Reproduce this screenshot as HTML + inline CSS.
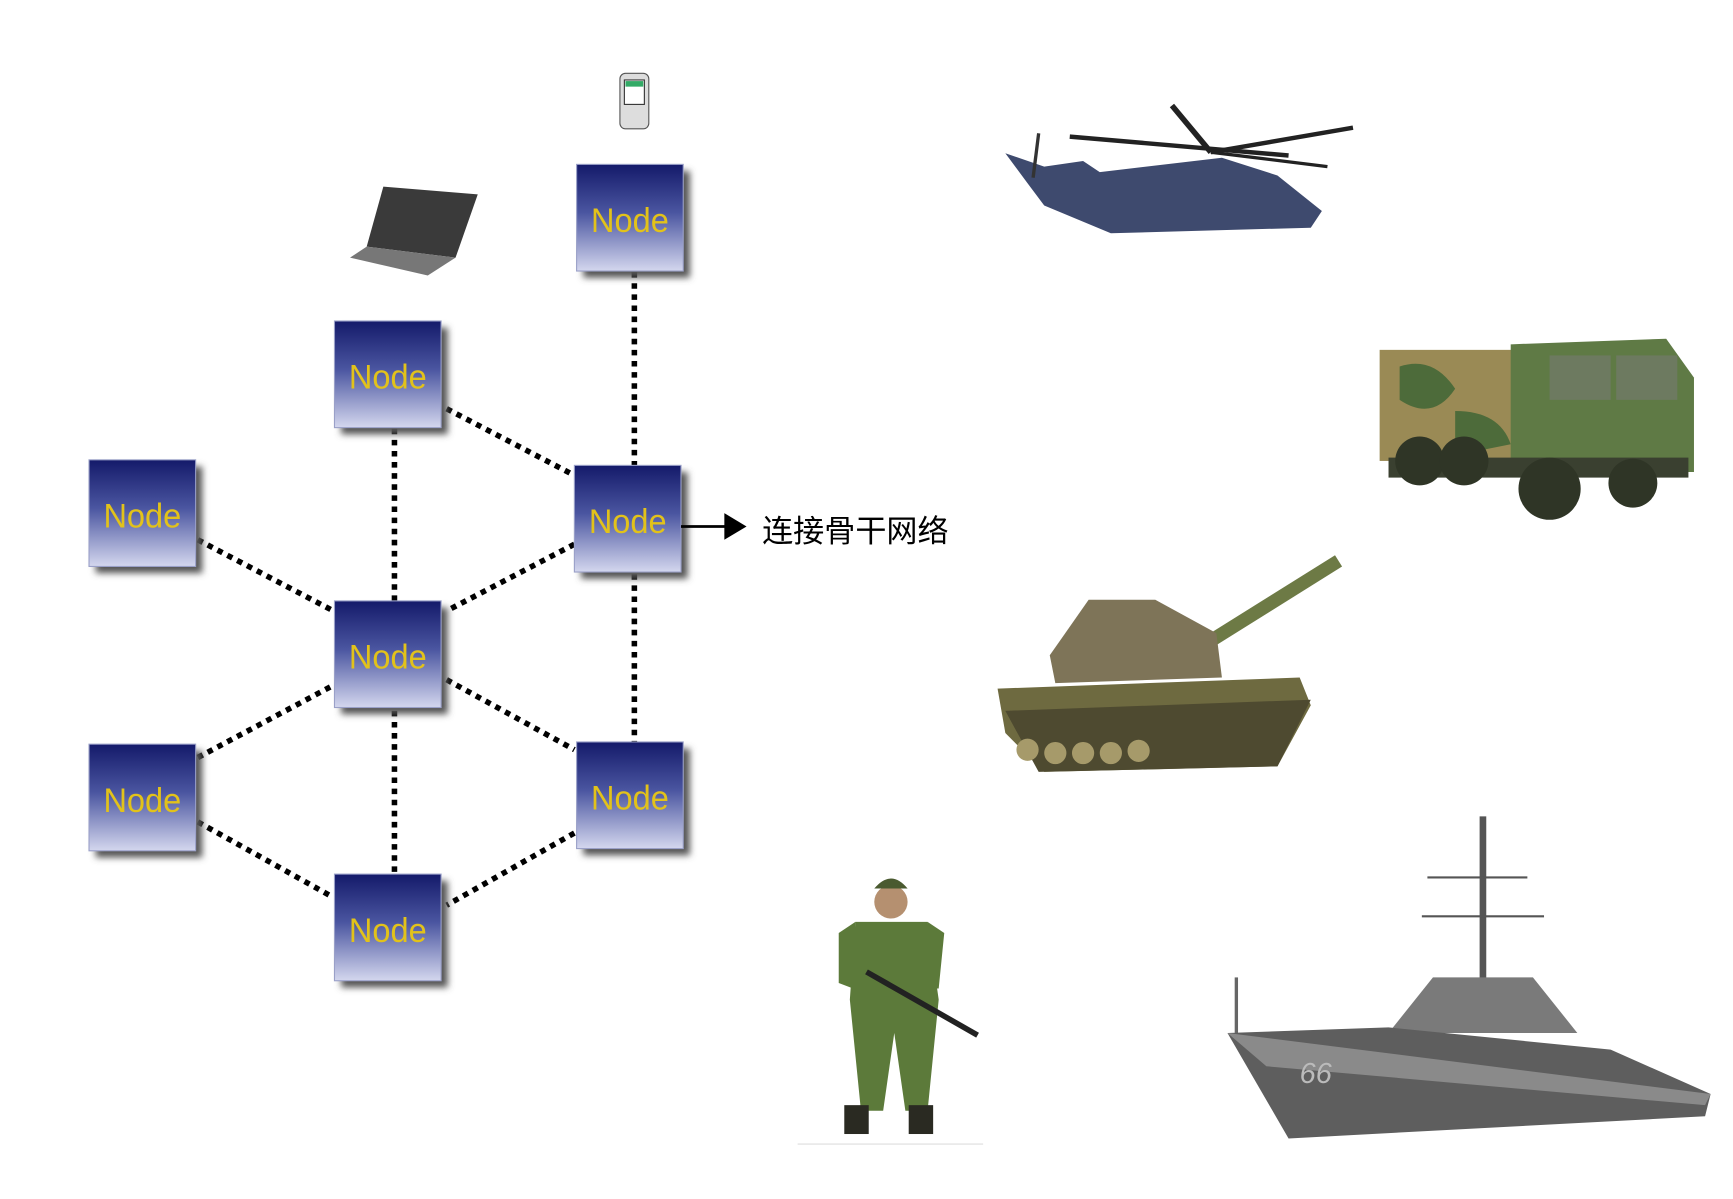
<!DOCTYPE html>
<html><head><meta charset="utf-8"><style>html,body{margin:0;padding:0;background:#fff;overflow:hidden}</style></head>
<body>
<svg width="1733" height="1194" viewBox="0 0 1560 1075" xmlns="http://www.w3.org/2000/svg">
<defs>
<linearGradient id="ng" x1="0" y1="0" x2="0" y2="1">
<stop offset="0" stop-color="#141a6a"/><stop offset="0.45" stop-color="#4a55a0"/><stop offset="1" stop-color="#d4d7ee"/>
</linearGradient>
<filter id="sh" x="-20%" y="-20%" width="150%" height="150%"><feGaussianBlur stdDeviation="3"/></filter>
<g id="node">
<rect x="6" y="6" width="96" height="96" fill="#555" filter="url(#sh)"/>
<rect x="0" y="0" width="96" height="96" fill="url(#ng)" stroke="#9aa0c8" stroke-width="1"/>
<text x="13" y="61" textLength="70" lengthAdjust="spacingAndGlyphs" font-family="Liberation Sans, sans-serif" font-size="31" fill="#e2c21a">Node</text>
</g>
</defs>
<g stroke="#000" stroke-width="5" stroke-dasharray="5 5" fill="none">
<line x1="571" y1="245" x2="571" y2="419"/>
<line x1="355" y1="386" x2="355" y2="541"/>
<line x1="402" y1="368" x2="517" y2="428"/>
<line x1="178" y1="486" x2="300" y2="550"/>
<line x1="517" y1="490" x2="402" y2="550"/>
<line x1="355" y1="640" x2="355" y2="787"/>
<line x1="402" y1="612" x2="517" y2="675"/>
<line x1="571" y1="517" x2="571" y2="668"/>
<line x1="178" y1="682" x2="300" y2="617"/>
<line x1="178" y1="740" x2="300" y2="808"/>
<line x1="517" y1="750" x2="402" y2="815"/>
</g>
<use href="#node" x="519" y="148"/>
<use href="#node" x="301" y="289"/>
<use href="#node" x="517" y="419"/>
<use href="#node" x="80" y="414"/>
<use href="#node" x="301" y="541"/>
<use href="#node" x="80" y="670"/>
<use href="#node" x="519" y="668"/>
<use href="#node" x="301" y="787"/>
<line x1="613" y1="474" x2="655" y2="474" stroke="#000" stroke-width="2.5"/>
<polygon points="652,462 672,474 652,486" fill="#000"/>
<text x="686" y="488" font-family="Liberation Sans, Noto Sans CJK SC, sans-serif" font-size="28" fill="#000">连接骨干网络</text>
<rect x="558" y="66" width="26" height="50" rx="5" fill="#ddd" stroke="#555"/>
<rect x="562" y="72" width="18" height="22" fill="#fff" stroke="#333"/>
<rect x="563" y="73" width="16" height="5" fill="#3a6"/>
<polygon points="345,168 430,175 410,232 330,222" fill="#3a3a3a"/>
<polygon points="330,222 410,232 385,248 315,232" fill="#777"/>
<line x1="963" y1="123" x2="1160" y2="140" stroke="#222" stroke-width="4"/>
<line x1="1090" y1="137" x2="1218" y2="115" stroke="#222" stroke-width="4"/>
<line x1="1055" y1="95" x2="1090" y2="137" stroke="#222" stroke-width="5"/>
<line x1="1090" y1="137" x2="1195" y2="150" stroke="#222" stroke-width="3"/>
<path d="M905,138 L940,150 L975,145 L990,155 L1100,142 L1150,158 L1190,190 L1180,205 L1000,210 L940,185 L925,165 Z" fill="#3e4a6e"/>
<line x1="935" y1="120" x2="930" y2="160" stroke="#333" stroke-width="3"/>
<rect x="1242" y="315" width="125" height="100" fill="#9a8a55"/>
<path d="M1260,330 q30,-10 50,20 q-20,30 -50,10z M1310,370 q40,0 50,30 l-50,10z" fill="#4d6b3a"/>
<path d="M1360,310 L1500,305 L1525,340 L1525,425 L1360,425 Z" fill="#5f7a45"/>
<rect x="1395" y="320" width="55" height="40" fill="#6d7a60"/>
<rect x="1455" y="320" width="55" height="40" fill="#6d7a60"/>
<rect x="1250" y="412" width="270" height="18" fill="#3a4030"/>
<circle cx="1278" cy="415" r="22" fill="#2f3526"/><circle cx="1318" cy="415" r="22" fill="#2f3526"/><circle cx="1395" cy="440" r="28" fill="#2f3526"/><circle cx="1470" cy="435" r="22" fill="#2f3526"/>
<line x1="1085" y1="580" x2="1205" y2="505" stroke="#6d7a45" stroke-width="12"/>
<path d="M945,590 L980,540 L1040,540 L1095,570 L1100,610 L950,615 Z" fill="#7e7458"/>
<path d="M898,620 L1170,610 L1180,635 L1150,690 L940,695 L905,660 Z" fill="#6e6a40"/>
<path d="M905,640 L1180,630 L1150,690 L935,695 Z" fill="#4e4a30"/>
<g fill="#a69a6a"><circle cx="925" cy="675" r="10"/><circle cx="950" cy="678" r="10"/><circle cx="975" cy="678" r="10"/><circle cx="1000" cy="678" r="10"/><circle cx="1025" cy="676" r="10"/></g>
<circle cx="802" cy="812" r="15" fill="#b59070"/>
<path d="M787,800 q15,-18 30,0z" fill="#4a5a30"/>
<path d="M770,830 L835,830 L845,900 L835,1000 L815,1000 L805,930 L795,1000 L775,1000 L765,900 Z" fill="#5c7a3a"/>
<path d="M755,840 L770,830 L768,890 L755,885 Z M835,830 L850,840 L845,890 L835,890Z" fill="#5c7a3a"/>
<line x1="780" y1="875" x2="880" y2="932" stroke="#222" stroke-width="5"/>
<rect x="760" y="995" width="22" height="26" fill="#2a2a22"/><rect x="818" y="995" width="22" height="26" fill="#2a2a22"/>
<line x1="718" y1="1030" x2="885" y2="1030" stroke="#ddd"/>
<line x1="1335" y1="735" x2="1335" y2="910" stroke="#555" stroke-width="6"/>
<line x1="1285" y1="790" x2="1375" y2="790" stroke="#555" stroke-width="2"/>
<line x1="1280" y1="825" x2="1390" y2="825" stroke="#555" stroke-width="2"/>
<path d="M1250,930 L1290,880 L1380,880 L1420,930 Z" fill="#7a7a7a"/>
<line x1="1113" y1="880" x2="1113" y2="930" stroke="#666" stroke-width="3"/>
<path d="M1105,930 L1250,925 L1450,945 L1540,985 L1535,1005 L1160,1025 Z" fill="#5e5e5e"/>
<path d="M1105,930 L1540,985 L1535,995 L1140,960 Z" fill="#8a8a8a"/>
<text x="1170" y="975" font-family="Liberation Sans, sans-serif" font-size="26" font-style="italic" fill="#bbb">66</text>
</svg>
</body></html>
